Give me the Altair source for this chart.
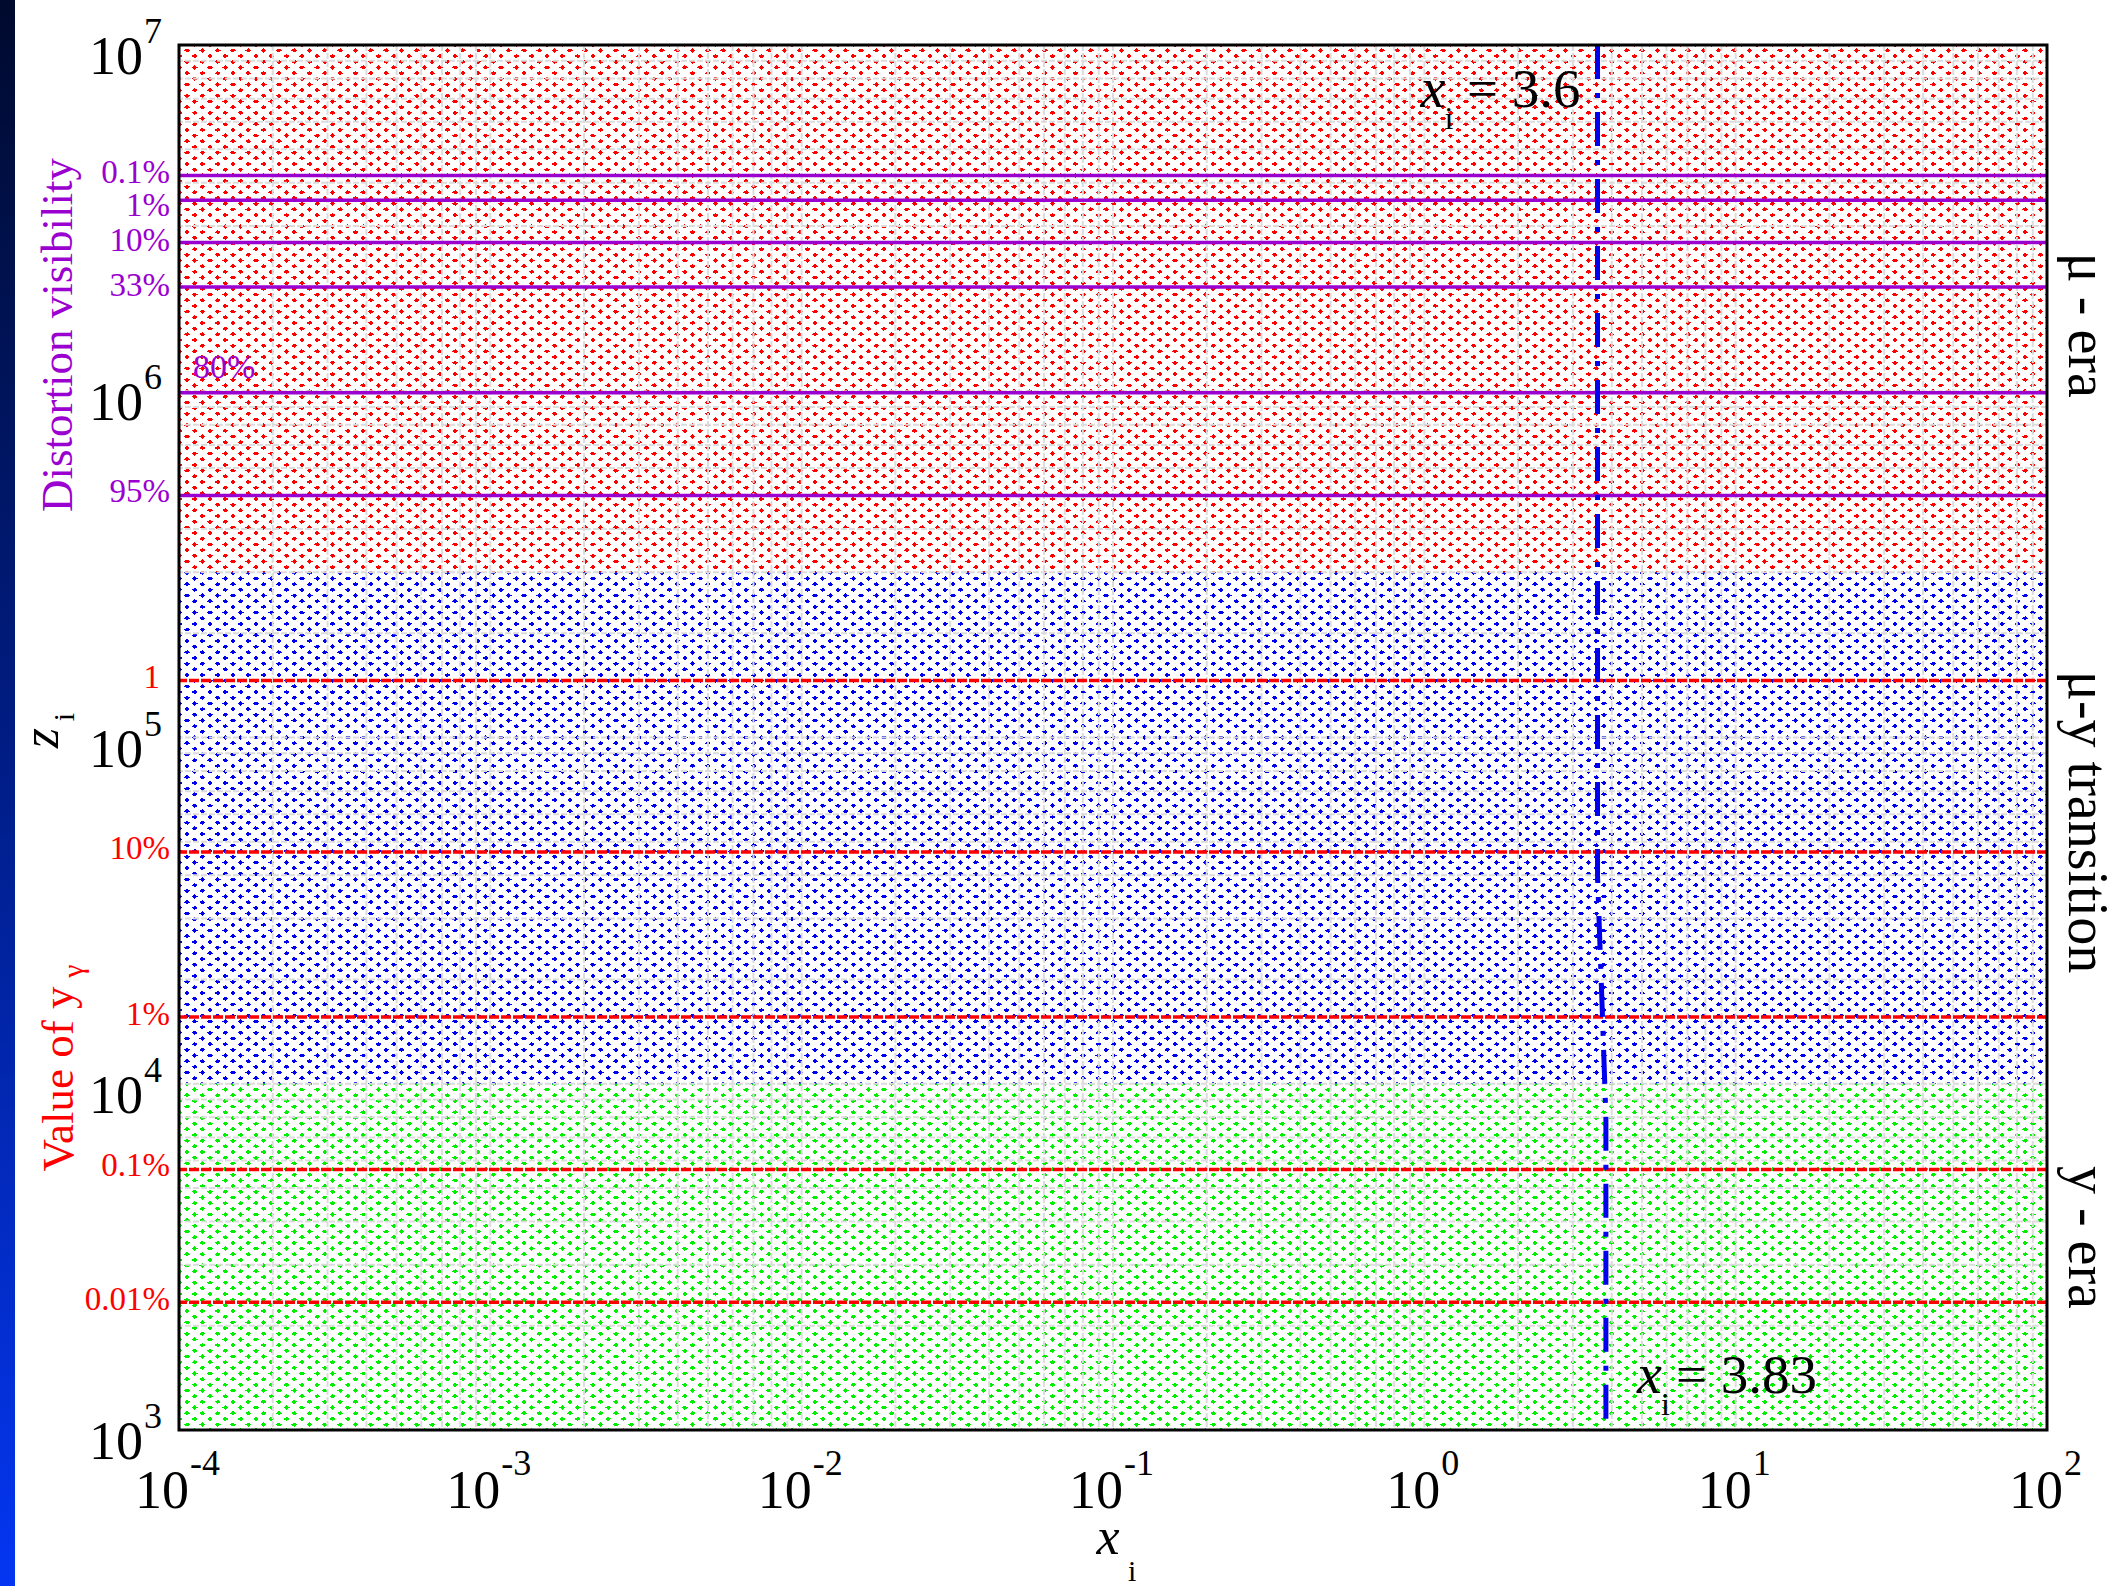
import math
import altair as alt
import pandas as pd

# ------------------------------------------------------------------ data
X_EXPONENTS = [-4, -3, -2, -1, 0, 1, 2]          # x-axis decades (x_i)
Y_EXPONENTS = [3, 4, 5, 6, 7]                    # y-axis decades (z_i)

REGION_NAMES = ["μ - era", "μ-y transition", "y - era"]
REGION_Z_LOW = [3.0e5, 1.0e4, 1.0e3]
REGION_Z_HIGH = [1.0e7, 3.0e5, 1.0e4]
REGION_LABEL_Z = [1.55e6, 5.7e4, 3.6e3]

VIS_LABELS = ["0.1%", "1%", "10%", "33%", "80%", "95%"]
VIS_Z = [4.2e6, 3.56e6, 2.69e6, 2.0e6, 0.99e6, 5.0e5]

YG_LABELS = ["1", "10%", "1%", "0.1%", "0.01%"]
YG_Z = [1.46e5, 4.67e4, 1.56e4, 5.65e3, 2.34e3]

XI_CURVE_X = [3.6, 3.6, 3.66, 3.74, 3.83, 3.83]
XI_CURVE_Z = [1.0e7, 4.0e4, 2.6e4, 1.5e4, 8.0e3, 1.0e3]

ANNOT_VALUES = ["3.6", "3.83"]
ANNOT_X = [3.6, 3.83]
ANNOT_Z = [6.6e6, 1.28e3]

# ------------------------------------------------------------------ style
W, H = 1868, 1385
PAD = {"left": 179, "top": 45, "right": 2121 - 179 - W, "bottom": 1586 - 45 - H}
FONT = "Liberation Serif"
PURPLE = "#9a00d0"
RED = "#ff0000"
REGION_COLORS = ["#ff0000", "#0000f0", "#00ee00"]
# label offsets (x px from the left axis, dy px) – purely typographic
VIS_OFFSETS = {"0.1%": (-9, -2), "1%": (-9, 6), "10%": (-9, -1), "33%": (-9, -1), "95%": (-9, -3)}
YG_OFFSETS = {"1": (-19, -3), "10%": (-9, -3), "1%": (-9, -2), "0.1%": (-9, -4), "0.01%": (-9, -2)}

X_MIN, X_MAX = 10.0 ** X_EXPONENTS[0], 10.0 ** X_EXPONENTS[-1]
Z_MIN, Z_MAX = 10.0 ** Y_EXPONENTS[0], 10.0 ** Y_EXPONENTS[-1]

xs = alt.Scale(type="log", domain=[X_MIN, X_MAX], nice=False)
ys = alt.Scale(type="log", domain=[Z_MIN, Z_MAX], nice=False)


def diag_mask(d, g, rising):
    """White mask of diagonal stripes with transparent gaps (texture only)."""
    clear, white = "rgba(255,255,255,0)", "#ffffff"
    stops = [{"offset": 0, "color": white}]
    k = 0
    while True:
        tc = k * d / 2
        a, b = max(tc - g / 4, 0.0), min(tc + g / 4, 1.0)
        if a >= 1.0:
            break
        stops += [{"offset": a, "color": white}, {"offset": a, "color": clear},
                  {"offset": b, "color": clear}, {"offset": b, "color": white}]
        k += 1
    stops.append({"offset": 1, "color": white})
    if rising:
        return {"gradient": "linear", "stops": stops, "x1": 0, "y1": 0, "x2": 1, "y2": 1}
    return {"gradient": "linear", "stops": stops, "x1": 0, "y1": 1, "x2": 1, "y2": 0}


frame_df = pd.DataFrame({"x0": [X_MIN], "x1": [X_MAX], "z0": [Z_MIN], "z1": [Z_MAX]})

regions = pd.DataFrame({"name": REGION_NAMES, "z0": REGION_Z_LOW, "z1": REGION_Z_HIGH,
                        "x0": X_MIN, "x1": X_MAX, "zl": REGION_LABEL_Z})


def full_rect(**mark):
    return alt.Chart(frame_df).mark_rect(strokeWidth=0, **mark).encode(
        x=alt.X("x0:Q", scale=xs, axis=None), x2="x1",
        y=alt.Y("z0:Q", scale=ys, axis=None), y2="z1")


region_layer = alt.Chart(regions).mark_rect(strokeWidth=0).encode(
    x=alt.X("x0:Q", scale=xs, axis=None), x2="x1",
    y=alt.Y("z0:Q", scale=ys, axis=None), y2="z1",
    color=alt.Color("name:N", scale=alt.Scale(domain=REGION_NAMES, range=REGION_COLORS), legend=None),
)

D_STEP, GAP = 0.0082, 0.0032
mask_a = full_rect(fill=diag_mask(D_STEP, GAP, True))
mask_b = full_rect(fill=diag_mask(D_STEP, GAP, False))

# minor log grid (interior only)
x_grid = [m * 10.0 ** k for k in X_EXPONENTS[:-1] for m in range(1, 10)][1:]
y_grid = [m * 10.0 ** k for k in Y_EXPONENTS[:-1] for m in range(1, 10)][1:]
grid_x = alt.Chart(pd.DataFrame({"x": x_grid})).mark_rule(
    color="#dcdcdc", strokeWidth=2, strokeDash=[6, 2]).encode(x=alt.X("x:Q", scale=xs, axis=None))
grid_y = alt.Chart(pd.DataFrame({"z": y_grid})).mark_rule(
    color="#dcdcdc", strokeWidth=2, strokeDash=[6, 2]).encode(y=alt.Y("z:Q", scale=ys, axis=None))

vis_df = pd.DataFrame({"label": VIS_LABELS, "z": VIS_Z})
yg_df = pd.DataFrame({"label": YG_LABELS, "z": YG_Z})

vis_lines = alt.Chart(vis_df).mark_rule(color=PURPLE, strokeWidth=3.5).encode(
    y=alt.Y("z:Q", scale=ys, axis=None))
yg_lines = alt.Chart(yg_df).mark_rule(color=RED, strokeWidth=3.5, strokeDash=[10, 2]).encode(
    y=alt.Y("z:Q", scale=ys, axis=None))

curve_df = pd.DataFrame({"x": XI_CURVE_X, "z": XI_CURVE_Z, "i": range(len(XI_CURVE_X))})
curve = alt.Chart(curve_df).mark_line(color="#0000ee", strokeWidth=5, strokeDash=[34, 14, 5, 14]).encode(
    x=alt.X("x:Q", scale=xs, axis=None), y=alt.Y("z:Q", scale=ys, axis=None), order="i:Q")

pct_layers = []
for df, offs, col in [(vis_df, VIS_OFFSETS, PURPLE), (yg_df, YG_OFFSETS, RED)]:
    for lab, (xo, dyo) in offs.items():
        pct_layers.append(alt.Chart(df).transform_filter(alt.datum.label == lab).mark_text(
            font=FONT, fontSize=33, color=col, align="right", baseline="middle", dy=dyo).encode(
            x=alt.value(xo), y=alt.Y("z:Q", scale=ys, axis=None), text="label:N"))
pct_layers.append(alt.Chart(vis_df).transform_filter(alt.datum.label == "80%").mark_text(
    font=FONT, fontSize=34, color=PURPLE, align="left", baseline="middle", dy=-25).encode(
    x=alt.value(14), y=alt.Y("z:Q", scale=ys, axis=None), text="label:N"))

# y tick labels 10^k
ydf = pd.DataFrame({"e": Y_EXPONENTS})
ydf["z"] = [10.0 ** e for e in Y_EXPONENTS]
ydf["es"] = [str(e) for e in Y_EXPONENTS]
y_ten = alt.Chart(ydf).mark_text(font=FONT, fontSize=54, align="right", baseline="alphabetic", dy=29).encode(
    x=alt.value(-36), y=alt.Y("z:Q", scale=ys, axis=None), text=alt.value("10"))
y_exp = alt.Chart(ydf).mark_text(font=FONT, fontSize=36, align="left", baseline="alphabetic", dy=-2).encode(
    x=alt.value(-35), y=alt.Y("z:Q", scale=ys, axis=None), text="es:N")

# x tick labels 10^k
xdf = pd.DataFrame({"e": X_EXPONENTS})
xdf["x"] = [10.0 ** e for e in X_EXPONENTS]
xdf["es"] = [str(e) for e in X_EXPONENTS]
x_labels = []
for cond, d10, dexp in [(alt.datum.e < 0, 10, 11), (alt.datum.e >= 0, 16, 17)]:
    x_labels.append(alt.Chart(xdf).transform_filter(cond).mark_text(
        font=FONT, fontSize=54, align="right", baseline="alphabetic", dx=d10).encode(
        x=alt.X("x:Q", scale=xs, axis=None), y=alt.value(H + 78), text=alt.value("10")))
    x_labels.append(alt.Chart(xdf).transform_filter(cond).mark_text(
        font=FONT, fontSize=36, align="left", baseline="alphabetic", dx=dexp).encode(
        x=alt.X("x:Q", scale=xs, axis=None), y=alt.value(H + 45), text="es:N"))

# era labels on the right
era_text = alt.Chart(regions).mark_text(font=FONT, fontSize=56, angle=90, align="center",
                                         baseline="alphabetic").encode(
    x=alt.value(W + 22), y=alt.Y("zl:Q", scale=ys, axis=None), text="name:N")

# x_i = ... annotations
adf = pd.DataFrame({"v": ANNOT_VALUES, "x": ANNOT_X, "z": ANNOT_Z})
a_top = adf[adf.v == ANNOT_VALUES[0]]
a_bot = adf[adf.v == ANNOT_VALUES[1]]
ann = []
for sub, dx_x, dx_i, dx_eq, align_eq in [(a_top, -177, -153, -17, "right"), (a_bot, 31, 55, 70, "left")]:
    base = alt.Chart(sub).encode(x=alt.X("x:Q", scale=xs, axis=None), y=alt.Y("z:Q", scale=ys, axis=None))
    ann.append(base.mark_text(font=FONT, fontSize=56, fontStyle="italic", align="left",
                              baseline="alphabetic", dx=dx_x).encode(text=alt.value("x")))
    ann.append(base.mark_text(font=FONT, fontSize=32, align="left", baseline="alphabetic",
                              dx=dx_i, dy=22).encode(text=alt.value("i")))
    ann.append(base.transform_calculate(t="'= ' + datum.v").mark_text(
        font=FONT, fontSize=55, align=align_eq, baseline="alphabetic", dx=dx_eq).encode(text="t:N"))

# axis titles
one = pd.DataFrame({"a": [0]})
titles = [
    alt.Chart(one).mark_text(font=FONT, fontSize=52, fontStyle="italic", align="center",
                             baseline="alphabetic").encode(x=alt.value(929), y=alt.value(H + 124), text=alt.value("x")),
    alt.Chart(one).mark_text(font=FONT, fontSize=30, align="left", baseline="alphabetic").encode(
        x=alt.value(949), y=alt.value(H + 151), text=alt.value("i")),
    alt.Chart(one).mark_text(font=FONT, fontSize=45, color=PURPLE, angle=270, align="center",
                             baseline="alphabetic").encode(x=alt.value(-107), y=alt.value(290),
                                                           text=alt.value("Distortion visibility")),
    alt.Chart(one).mark_text(font=FONT, fontSize=52, fontStyle="italic", angle=270, align="center",
                             baseline="alphabetic").encode(x=alt.value(-121), y=alt.value(693), text=alt.value("z")),
    alt.Chart(one).mark_text(font=FONT, fontSize=30, angle=270, align="center",
                             baseline="alphabetic").encode(x=alt.value(-105), y=alt.value(672), text=alt.value("i")),
    alt.Chart(one).mark_text(font=FONT, fontSize=45, color=RED, angle=270, align="center",
                             baseline="alphabetic").encode(x=alt.value(-106), y=alt.value(1034),
                                                           text=alt.value("Value of y")),
    alt.Chart(one).mark_text(font=FONT, fontSize=30, color=RED, angle=270, align="center",
                             baseline="alphabetic").encode(x=alt.value(-96), y=alt.value(926), text=alt.value("γ")),
]

frame = alt.Chart(frame_df).mark_rect(filled=False, stroke="black", strokeWidth=3).encode(
    x=alt.X("x0:Q", scale=xs, axis=None), x2="x1",
    y=alt.Y("z0:Q", scale=ys, axis=None), y2="z1")

strip = alt.Chart(one).mark_rect(strokeWidth=0, fill={
    "gradient": "linear", "x1": 0, "y1": 0, "x2": 0, "y2": 1,
    "stops": [{"offset": 0, "color": "#000a2e"}, {"offset": 0.5, "color": "#001e8a"},
              {"offset": 1, "color": "#0436f2"}]}).encode(
    x=alt.value(-PAD["left"]), x2=alt.value(-PAD["left"] + 15),
    y=alt.value(-PAD["top"]), y2=alt.value(H + PAD["bottom"]))

chart = alt.layer(
    region_layer, mask_a, mask_b, grid_x, grid_y, vis_lines, yg_lines, curve,
    *pct_layers, y_ten, y_exp, *x_labels, era_text, *ann, *titles, frame, strip,
).properties(
    width=W, height=H, padding=PAD, autosize=alt.AutoSizeParams(type="none"), background="white",
).configure_view(strokeWidth=0)

chart.save("out.html", embed_options={"renderer": "svg", "actions": False})
